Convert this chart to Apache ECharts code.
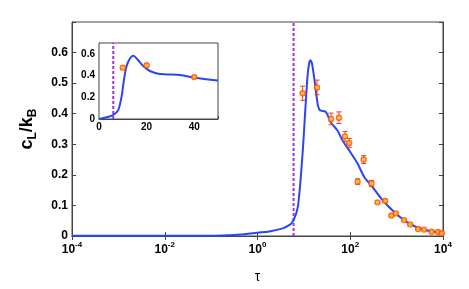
<!DOCTYPE html>
<html><head><meta charset="utf-8">
<script src="https://cdn.jsdelivr.net/npm/echarts@6/dist/echarts.min.js"></script>
<style>html,body{margin:0;padding:0;background:#fff}#c{width:469px;height:289px}</style>
</head><body><div id="c"></div>
<script>
// Main curve: [tau, c_L/k_B]
const curveTau = [1e-4, 1e-3, 1e-2, 0.1, 0.2, 0.3, 0.5, 1.0, 1.8, 3.5, 5.0, 5.7, 6.7, 7.4, 8.0, 8.7, 9.8, 10.8, 12.1, 13.0, 13.8, 14.7, 15.5, 17.4, 19.8, 21.5, 23.4, 30, 38, 53, 68, 95, 144, 200, 300, 500, 960, 1860, 3600, 8200, 10000];
const curveVal = [0.001, 0.001, 0.001, 0.001, 0.002, 0.003, 0.006, 0.011, 0.015, 0.025, 0.037, 0.047, 0.07, 0.095, 0.14, 0.204, 0.313, 0.42, 0.53, 0.565, 0.575, 0.568, 0.551, 0.497, 0.432, 0.414, 0.41, 0.405, 0.372, 0.345, 0.313, 0.28, 0.237, 0.193, 0.161, 0.117, 0.074, 0.041, 0.022, 0.011, 0.009];
// Measured points with error bars
const ptTau = [9.4, 19.2, 38.5, 57, 77, 95, 144, 195, 287, 387, 565, 770, 960, 1450, 1960, 2900, 3900, 5700, 7800, 9400];
const ptVal = [0.467, 0.486, 0.383, 0.387, 0.326, 0.304, 0.178, 0.25, 0.172, 0.11, 0.115, 0.067, 0.074, 0.052, 0.038, 0.023, 0.021, 0.014, 0.013, 0.009];
const ptErr = [0.023, 0.024, 0.019, 0.019, 0.016, 0.015, 0.009, 0.013, 0.010, 0.004, 0.005, 0.003, 0.003, 0.003, 0.002, 0.002, 0.002, 0.002, 0.002, 0.002];
// Vertical marker
const markTau = 6;
// Inset (linear tau)
const insetTau = [0, 3.2, 6.0, 8.1, 9.5, 10.5, 11.6, 13.0, 14.4, 16.1, 18.6, 21.4, 24.9, 28.4, 34, 40.3, 50];
const insetVal = [0, 0.016, 0.037, 0.084, 0.208, 0.364, 0.488, 0.557, 0.582, 0.551, 0.488, 0.442, 0.417, 0.411, 0.405, 0.38, 0.355];
const insetPtTau = [10, 20, 40];
const insetPtVal = [0.473, 0.495, 0.386];
const insetPtErr = [0.012, 0.012, 0.01];
// Tick labels
const mainXTicks = [1e-4, 1e-2, 1, 1e2, 1e4];
const mainYTicks = [0, 0.1, 0.2, 0.3, 0.4, 0.5, 0.6];
const insetYTicks = [0, 0.2, 0.4, 0.6];
const insetXTicks = [0, 20, 40];

const FONT = 'Liberation Sans';
const BLUE = '#2b45f5';
const PURPLE = '#a030f0';
const AX = '#444';

const zip = (a, b) => a.map((v, i) => [v, b[i]]);
const zip3 = (a, b, c) => a.map((v, i) => [v, b[i], c[i]]);

function errRender(params, api) {
  const x = api.value(0), y = api.value(1), e = api.value(2);
  const t = api.coord([x, y + e]), b = api.coord([x, y - e]);
  const hw = 2.5;
  const st = { stroke: '#e8401c', lineWidth: 1 };
  return { type: 'group', children: [
    { type: 'line', shape: { x1: t[0], y1: t[1], x2: b[0], y2: b[1] }, style: st },
    { type: 'line', shape: { x1: t[0] - hw, y1: t[1], x2: t[0] + hw, y2: t[1] }, style: st },
    { type: 'line', shape: { x1: b[0] - hw, y1: b[1], x2: b[0] + hw, y2: b[1] }, style: st }
  ]};
}

const supRich = {
  b: { fontSize: 12, fontWeight: 'bold', fontFamily: FONT, color: '#000' },
  s: { fontSize: 8, fontWeight: 'bold', fontFamily: FONT, color: '#000', padding: [0, 0, 9, 0] }
};
const logLabel = v => '{b|10}{s|' + Math.round(Math.log10(v)) + '}';

const chart = echarts.init(document.getElementById('c'), null, { renderer: 'canvas' });
chart.setOption({
  animation: false,
  backgroundColor: '#fff',
  grid: [
    { left: 72, top: 22, right: 26, bottom: 53, show: true, borderColor: AX, borderWidth: 1, backgroundColor: 'transparent' },
    { left: 99, top: 43, width: 119, height: 76, show: true, borderColor: AX, borderWidth: 1, backgroundColor: '#fff', z: 5 }
  ],
  xAxis: [
    { gridIndex: 0, type: 'log', logBase: 10, min: 1e-4, max: 1e4,
      axisLine: { lineStyle: { color: AX } },
      axisTick: { inside: true, length: 4, lineStyle: { color: AX }, customValues: mainXTicks },
      minorTick: { show: false }, splitLine: { show: false },
      axisLabel: { margin: 5, customValues: mainXTicks, formatter: logLabel, rich: supRich },
      name: 'τ', nameLocation: 'middle', nameGap: 34,
      nameTextStyle: { fontSize: 14, fontFamily: FONT, color: '#000' } },
    { gridIndex: 0, type: 'log', logBase: 10, min: 1e-4, max: 1e4, position: 'top',
      axisLine: { lineStyle: { color: AX } },
      axisTick: { inside: true, length: 4, lineStyle: { color: AX }, customValues: mainXTicks },
      axisLabel: { show: false }, splitLine: { show: false } },
    { gridIndex: 1, type: 'value', min: 0, max: 50, interval: 20,
      axisLine: { lineStyle: { color: AX } }, axisTick: { inside: true, length: 3, lineStyle: { color: AX } },
      splitLine: { show: false },
      axisLabel: { margin: 3, fontSize: 10, fontWeight: 'bold', fontFamily: FONT, color: '#000',
        formatter: v => insetXTicks.includes(v) ? String(v) : '' } },
  ],
  yAxis: [
    { gridIndex: 0, type: 'value', min: 0, max: 0.7, interval: 0.1,
      axisLine: { show: true, lineStyle: { color: AX } }, axisTick: { show: true, inside: true, length: 4, lineStyle: { color: AX } },
      splitLine: { show: false },
      axisLabel: { margin: 4, fontSize: 12, fontWeight: 'bold', fontFamily: FONT, color: '#000',
        formatter: v => { const r = Math.round(v * 10) / 10; return mainYTicks.includes(r) ? String(r) : ''; } },
      name: '{c|c}{s|L}{c|/k}{s|B}', nameLocation: 'middle', nameRotate: 90, nameGap: 33,
      nameTextStyle: { rich: {
        c: { fontSize: 18, fontWeight: 'bold', fontFamily: FONT, color: '#000' },
        s: { fontSize: 12, fontWeight: 'bold', fontFamily: FONT, color: '#000', padding: [12, 0, 0, 0] }
      } } },
    { gridIndex: 0, type: 'value', min: 0, max: 0.7, interval: 0.1, position: 'right',
      axisLine: { show: true, lineStyle: { color: AX } }, axisTick: { show: true, inside: true, length: 4, lineStyle: { color: AX } },
      axisLabel: { show: false }, splitLine: { show: false } },
    { gridIndex: 1, type: 'value', min: 0, max: 0.7, interval: 0.2,
      axisLine: { show: true, lineStyle: { color: AX } }, axisTick: { show: true, inside: true, length: 3, lineStyle: { color: AX } },
      splitLine: { show: false },
      axisLabel: { margin: 4, fontSize: 10, fontWeight: 'bold', fontFamily: FONT, color: '#000',
        formatter: v => { const r = Math.round(v * 10) / 10; return insetYTicks.includes(r) ? String(r) : ''; } } }
  ],
  series: [
    { type: 'line', xAxisIndex: 0, yAxisIndex: 0, data: [[markTau, 0], [markTau, 0.7]], symbol: 'none',
      lineStyle: { color: PURPLE, width: 2, type: [3, 2] }, z: 3 },
    { type: 'line', xAxisIndex: 0, yAxisIndex: 0, data: zip(curveTau, curveVal), symbol: 'none', smooth: 0.3,
      lineStyle: { color: BLUE, width: 2 }, z: 4 },
    { type: 'custom', xAxisIndex: 0, yAxisIndex: 0, data: zip3(ptTau, ptVal, ptErr), renderItem: errRender,
      encode: { x: 0, y: 1 }, z: 5 },
    { type: 'scatter', xAxisIndex: 0, yAxisIndex: 0, data: zip(ptTau, ptVal), symbol: 'circle', symbolSize: 5,
      itemStyle: { color: '#ffd020', borderColor: '#ff4a10', borderWidth: 1.4 }, z: 6 },
    { type: 'line', xAxisIndex: 2, yAxisIndex: 2, data: [[markTau, 0], [markTau, 0.7]], symbol: 'none',
      lineStyle: { color: PURPLE, width: 2, type: [3, 2] }, z: 7 },
    { type: 'line', xAxisIndex: 2, yAxisIndex: 2, data: zip(insetTau, insetVal), symbol: 'none', smooth: 0.3,
      lineStyle: { color: BLUE, width: 2 }, z: 8 },
    { type: 'custom', xAxisIndex: 2, yAxisIndex: 2, data: zip3(insetPtTau, insetPtVal, insetPtErr), renderItem: errRender,
      encode: { x: 0, y: 1 }, z: 9 },
    { type: 'scatter', xAxisIndex: 2, yAxisIndex: 2, data: zip(insetPtTau, insetPtVal), symbol: 'circle', symbolSize: 5,
      itemStyle: { color: '#ffd020', borderColor: '#ff4a10', borderWidth: 1.4 }, z: 10 }
  ]
});
</script></body></html>
